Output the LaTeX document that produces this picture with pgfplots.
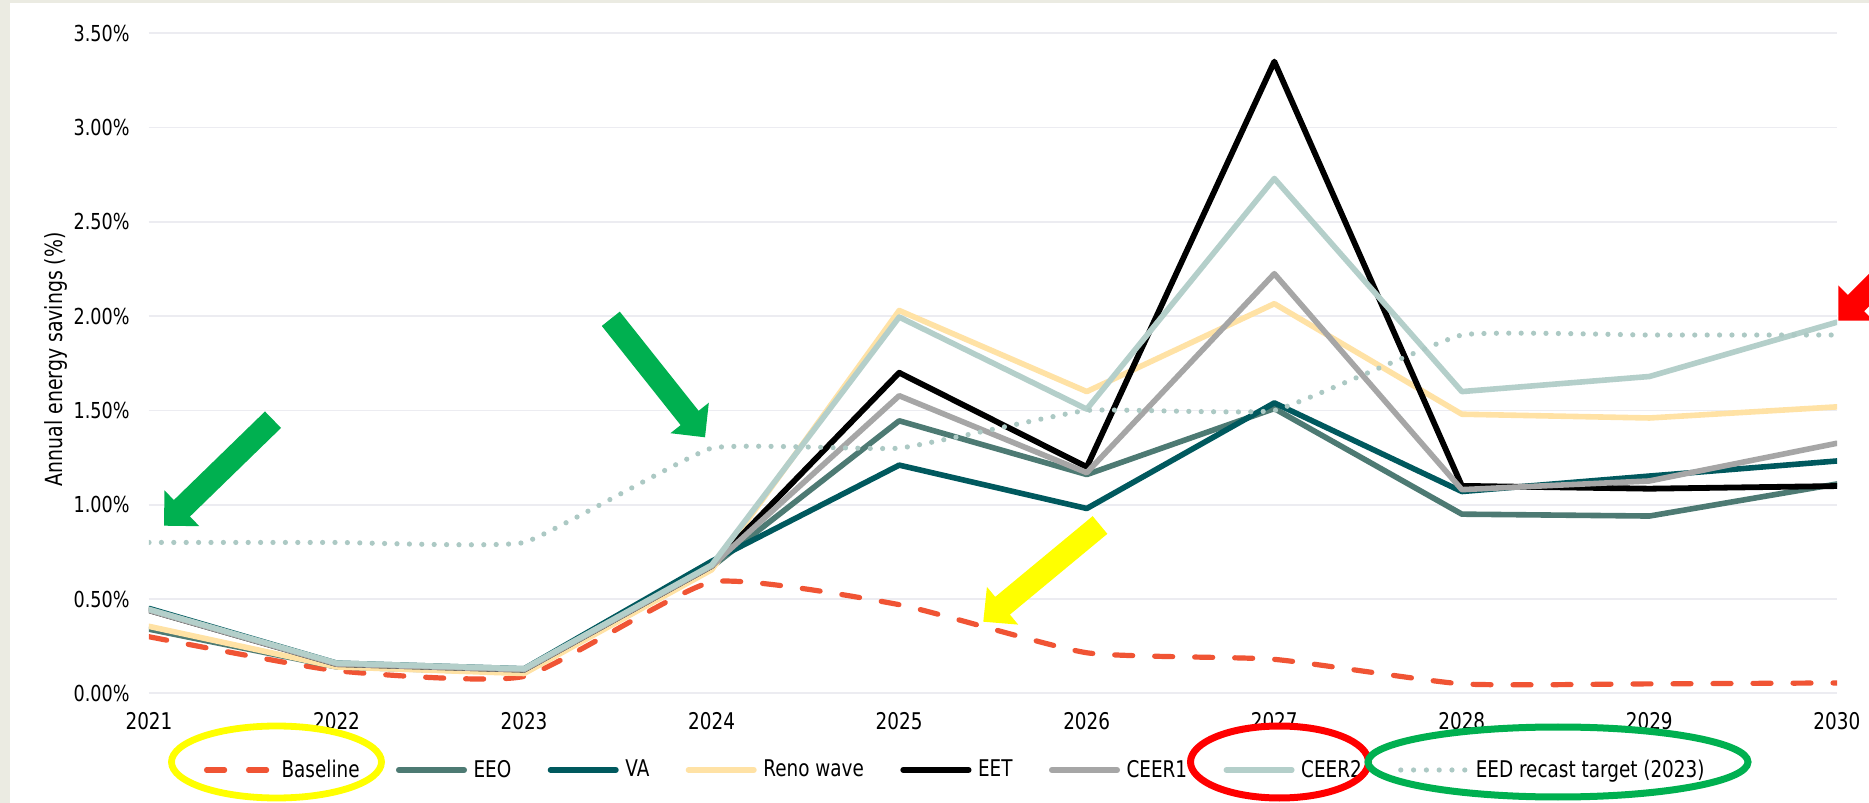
\documentclass[border=0pt]{standalone}
\usepackage{pgfplots}
\pgfplotsset{compat=1.18}
\usepackage{pgfplotstable}
\usepackage{fontspec}
\setmainfont{DejaVu Sans}[FakeStretch=0.8]

\definecolor{cBase}{RGB}{240,84,52}
\definecolor{cEEO}{RGB}{77,122,115}
\definecolor{cVA}{RGB}{0,89,94}
\definecolor{cReno}{RGB}{255,226,165}
\definecolor{cCEER1}{RGB}{166,166,166}
\definecolor{cCEER2}{RGB}{180,207,202}
\definecolor{cEED}{RGB}{172,201,196}
\definecolor{cGrid}{RGB}{236,236,241}
\definecolor{cBeige}{RGB}{235,235,226}
\definecolor{cGreen}{RGB}{0,176,80}
\definecolor{cYellow}{RGB}{255,255,0}
\definecolor{cRed}{RGB}{255,0,0}

\pgfplotstableread{
year base  eeo   va    reno  eet   ceer1 ceer2 eed
2021 0.30  0.34  0.45  0.355 0.44  0.44  0.445 0.80
2022 0.12  0.14  0.16  0.14  0.155 0.155 0.16  0.80
2023 0.09  0.11  0.13  0.105 0.125 0.125 0.13  0.80
2024 0.59  0.67  0.70  0.655 0.675 0.675 0.68  1.30
2025 0.47  1.445 1.21  2.03  1.70  1.578 1.995 1.30
2026 0.215 1.16  0.98  1.60  1.20  1.17  1.507 1.50
2027 0.18  1.51  1.54  2.066 3.35  2.225 2.73  1.50
2028 0.05  0.95  1.07  1.48  1.10  1.08  1.60  1.90
2029 0.05  0.94  1.152 1.46  1.085 1.126 1.68  1.90
2030 0.055 1.11  1.232 1.519 1.099 1.326 1.968 1.90
}\data

\tikzset{px/.style={shift={(-74.5pt,346.65pt)}, x=0.5pt, y=-0.5pt}}

% block arrow: tipx tipy tailx taily shaftw headw headl color (pixel units)
\newcommand{\blockarrow}[8]{%
  \pgfmathsetmacro{\ddx}{#1-(#3)}%
  \pgfmathsetmacro{\ddy}{#2-(#4)}%
  \pgfmathsetmacro{\llen}{veclen(\ddx,\ddy)}%
  \pgfmathsetmacro{\ux}{(\ddx)/(\llen)}%
  \pgfmathsetmacro{\uy}{(\ddy)/(\llen)}%
  \pgfmathsetmacro{\nx}{-(\uy)}%
  \pgfmathsetmacro{\ny}{\ux}%
  \pgfmathsetmacro{\bx}{#1-(#7)*(\ux)}%
  \pgfmathsetmacro{\by}{#2-(#7)*(\uy)}%
  \pgfmathsetmacro{\hAx}{\bx+(#6)/2*(\nx)}\pgfmathsetmacro{\hAy}{\by+(#6)/2*(\ny)}%
  \pgfmathsetmacro{\hBx}{\bx-(#6)/2*(\nx)}\pgfmathsetmacro{\hBy}{\by-(#6)/2*(\ny)}%
  \pgfmathsetmacro{\sAx}{\bx+(#5)/2*(\nx)}\pgfmathsetmacro{\sAy}{\by+(#5)/2*(\ny)}%
  \pgfmathsetmacro{\sBx}{\bx-(#5)/2*(\nx)}\pgfmathsetmacro{\sBy}{\by-(#5)/2*(\ny)}%
  \pgfmathsetmacro{\tAx}{#3+(#5)/2*(\nx)}\pgfmathsetmacro{\tAy}{#4+(#5)/2*(\ny)}%
  \pgfmathsetmacro{\tBx}{#3-(#5)/2*(\nx)}\pgfmathsetmacro{\tBy}{#4-(#5)/2*(\ny)}%
  \fill[#8] (#1,#2) -- (\hAx,\hAy) -- (\sAx,\sAy) -- (\tAx,\tAy) -- (\tBx,\tBy)
     -- (\sBx,\sBy) -- (\hBx,\hBy) -- cycle;
}

\begin{document}
\begin{tikzpicture}
\begin{scope}[px]
  \fill[cBeige] (0,0) rectangle (1869,803);
  \fill[white] (10,3) rectangle (1869,803);
  \useasboundingbox (0,0) rectangle (1869,803);
\end{scope}

\begin{axis}[
  at={(0,0)}, anchor=south west,
  scale only axis, width=844pt, height=330pt,
  xmin=2021, xmax=2030, ymin=0, ymax=3.5,
  xtick={2021,2022,...,2030},
  ytick={0,0.5,1,1.5,2,2.5,3,3.5},
  axis line style={draw=none},
  major tick length=0pt,
  ymajorgrids, grid style={cGrid, line width=0.85pt},
  /pgf/number format/assume math mode=true,
  /pgf/number format/1000 sep={},
  yticklabel={\pgfmathprintnumber[fixed,fixed zerofill,precision=2]{\tick}\%},
  xticklabel style={font=\fontsize{11.5}{13}\selectfont, inner sep=0pt, anchor=north, yshift=-9.2pt},
  yticklabel style={font=\fontsize{11}{13}\selectfont, inner sep=0pt, anchor=east, xshift=-9.5pt},
  ylabel={Annual energy savings (\%)},
  ylabel style={font=\fontsize{11.8}{13}\selectfont, at={(axis description cs:-0.05095,0.506)}, anchor=base},
  legend columns=-1,
  legend style={at={(axis description cs:0.03258,-0.1162)}, anchor=west,
    draw=none, fill=none, inner sep=0pt, outer sep=0pt,
    font=\fontsize{11.5}{13}\selectfont,
    nodes={inner sep=0pt},
    /tikz/every odd column/.append style={column sep=3.3pt},
    /tikz/every even column/.append style={column sep=18.2pt}},
  legend image code/.code={%
    \path[draw=none,fill=none] (0pt,-3pt) rectangle (35.5pt,3pt);
    \draw[#1] (1.4pt,0pt) -- (34.1pt,0pt);},
  every axis plot/.append style={line join=round, line cap=round},
]
\addplot[cBase, line width=2.6pt, dash pattern=on 9pt off 11pt, smooth, tension=0.3,
  legend image code/.code={\path[draw=none,fill=none] (0pt,-3pt) rectangle (35.5pt,3pt);
    \draw[cBase, line width=2.6pt, line cap=round, dash pattern=on 9pt off 12pt] (1.3pt,0pt) -- (31.3pt,0pt);}]
  table[x=year,y=base]{\data};
\addlegendentry{Baseline}
\addplot[cEEO, line width=2.8pt] table[x=year,y=eeo]{\data};
\addlegendentry{EEO}
\addplot[cVA, line width=2.8pt] table[x=year,y=va]{\data};
\addlegendentry{VA}
\addplot[cReno, line width=2.8pt] table[x=year,y=reno]{\data};
\addlegendentry{Reno wave}
\addplot[black, line width=2.9pt] table[x=year,y=eet]{\data};
\addlegendentry{EET}
\addplot[cCEER1, line width=2.8pt] table[x=year,y=ceer1]{\data};
\addlegendentry{CEER1}
\addplot[cCEER2, line width=2.8pt] table[x=year,y=ceer2]{\data};
\addlegendentry{CEER2}
\addplot[cEED, line width=2.6pt, dash pattern=on 0pt off 6.2pt, smooth, tension=0.2,
  legend image code/.code={\path[draw=none,fill=none] (0pt,-3pt) rectangle (35.5pt,3pt);
    \draw[cEED, line width=2.6pt, line cap=round, dash pattern=on 0pt off 6.4pt] (1.3pt,0pt) -- (33.4pt,0pt);}]
  table[x=year,y=eed]{\data};
\addlegendentry{EED recast target (2023)}
\end{axis}

\begin{scope}[px]
  \clip (0,0) rectangle (1869,803);
  \blockarrow{164}{525.7}{273}{419.7}{23}{50}{25}{cGreen}
  \blockarrow{705}{437.3}{610.8}{318.8}{23}{49}{24.7}{cGreen}
  \blockarrow{983.3}{621.7}{1100}{525}{23}{49}{25}{cYellow}
  \blockarrow{1838.3}{320.7}{1990}{169}{23}{50}{25}{cRed}
  \draw[cYellow, line width=3.4pt] (276.5,762) ellipse [x radius=52.5pt, y radius=18pt];
  \draw[cRed, line width=3.5pt] (1279.5,762) ellipse [x radius=44.5pt, y radius=18pt];
  \draw[cGreen, line width=3.5pt] (1558,762) ellipse [x radius=95pt, y radius=17.5pt];
\end{scope}
\end{tikzpicture}
\end{document}
